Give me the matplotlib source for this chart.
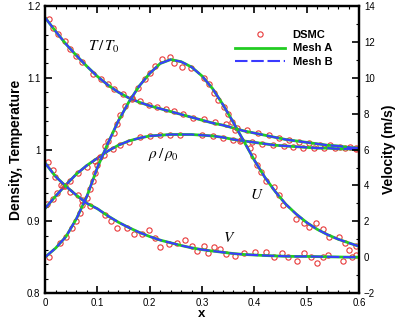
import matplotlib
matplotlib.use("Agg")
import matplotlib.pyplot as plt
from matplotlib.ticker import MultipleLocator, FuncFormatter

plt.rcParams["font.family"] = ["Liberation Sans", "DejaVu Sans"]
plt.rcParams["mathtext.fontset"] = "stix"

# ---- solution curves (Mesh A / Mesh B overlap) ----
x_line = [0.0, 0.02, 0.04, 0.06, 0.08, 0.1, 0.12, 0.14, 0.16, 0.18, 0.2, 0.22, 0.24, 0.26, 0.28, 0.3,
          0.32, 0.34, 0.36, 0.38, 0.4, 0.42, 0.44, 0.46, 0.48, 0.5, 0.52, 0.54, 0.56, 0.58, 0.6]
T_line = [1.184, 1.165, 1.147, 1.131, 1.116, 1.102, 1.090, 1.080, 1.072, 1.066, 1.061, 1.057, 1.053, 1.049,
          1.045, 1.041, 1.037, 1.034, 1.030, 1.026, 1.023, 1.020, 1.017, 1.014, 1.012, 1.010, 1.008, 1.006,
          1.005, 1.003, 1.002]
rho_line = [0.918, 0.935, 0.951, 0.966, 0.978, 0.988, 0.998, 1.006, 1.012, 1.016, 1.019, 1.020, 1.021, 1.021,
            1.021, 1.020, 1.019, 1.017, 1.014, 1.012, 1.010, 1.008, 1.006, 1.005, 1.004, 1.003, 1.002, 1.002,
            1.001, 1.001, 1.000]
U_line = [0.0, 0.5, 1.15, 2.15, 3.4, 5.0, 6.35, 7.6, 8.65, 9.55, 10.25, 10.8, 11.02, 10.9, 10.6, 10.1,
          9.4, 8.5, 7.5, 6.45, 5.4, 4.45, 3.65, 2.95, 2.4, 1.93, 1.55, 1.25, 1.0, 0.8, 0.6]
V_line = [5.25, 4.5, 3.95, 3.45, 3.0, 2.7, 2.3, 1.95, 1.65, 1.38, 1.15, 0.95, 0.8, 0.65, 0.52, 0.42,
          0.34, 0.27, 0.2, 0.15, 0.12, 0.09, 0.07, 0.05, 0.04, 0.04, 0.03, 0.02, 0.01, 0.0, 0.0]

# ---- DSMC samples ----
T_x = [0.008, 0.016, 0.025, 0.038, 0.048, 0.059, 0.070, 0.092, 0.106, 0.121, 0.132, 0.149, 0.166, 0.182,
       0.198, 0.214, 0.231, 0.247, 0.264, 0.282, 0.303, 0.325, 0.346, 0.367, 0.386, 0.406, 0.427, 0.446,
       0.467, 0.486, 0.505, 0.526, 0.545, 0.564, 0.583, 0.595]
T_dsmc = [1.182, 1.170, 1.161, 1.151, 1.140, 1.131, 1.122, 1.106, 1.098, 1.091, 1.084, 1.077, 1.071, 1.068,
          1.062, 1.059, 1.056, 1.054, 1.049, 1.044, 1.042, 1.038, 1.035, 1.030, 1.027, 1.023, 1.020, 1.016,
          1.014, 1.011, 1.009, 1.007, 1.006, 1.004, 1.004, 1.002]
rho_x = [0.004, 0.015, 0.022, 0.034, 0.048, 0.062, 0.080, 0.096, 0.112, 0.129, 0.143, 0.161, 0.182, 0.201,
         0.220, 0.239, 0.258, 0.300, 0.321, 0.340, 0.360, 0.373, 0.395, 0.414, 0.435, 0.456, 0.473, 0.493,
         0.513, 0.532, 0.553, 0.574, 0.595]
rho_dsmc = [0.924, 0.931, 0.940, 0.949, 0.956, 0.967, 0.976, 0.984, 0.993, 1.001, 1.006, 1.010, 1.018, 1.019,
            1.021, 1.021, 1.021, 1.021, 1.019, 1.016, 1.013, 1.012, 1.010, 1.008, 1.007, 1.005, 1.003, 1.002,
            1.002, 1.002, 1.002, 1.002, 1.001]
U_x = [0.008, 0.029, 0.040, 0.051, 0.059, 0.066, 0.070, 0.080, 0.086, 0.091, 0.096, 0.100, 0.105, 0.115,
       0.121, 0.131, 0.137, 0.143, 0.153, 0.166, 0.178, 0.191, 0.201, 0.210, 0.223, 0.239, 0.247, 0.261,
       0.279, 0.304, 0.314, 0.323, 0.331, 0.341, 0.349, 0.357, 0.363, 0.375, 0.391, 0.397, 0.405, 0.412,
       0.423, 0.438, 0.446, 0.455, 0.480, 0.494, 0.505, 0.518, 0.531, 0.543, 0.562, 0.573, 0.581, 0.594]
U_dsmc = [0.03, 0.78, 1.15, 1.62, 2.03, 2.49, 2.92, 3.30, 3.80, 4.23, 4.70, 5.16, 5.59, 6.18,
          6.46, 6.93, 7.40, 7.90, 8.42, 8.89, 9.45, 9.92, 10.27, 10.66, 11.07, 11.19, 10.81, 10.60,
          10.53, 10.01, 9.64, 9.13, 8.76, 8.39, 7.96, 7.53, 7.08, 6.56, 6.09, 5.66, 5.16, 4.73,
          4.23, 3.91, 3.48, 2.92, 2.12, 1.90, 1.68, 1.90, 1.56, 1.15, 1.15, 0.78, 0.41, 0.63]
V_x = [0.006, 0.015, 0.019, 0.030, 0.038, 0.048, 0.062, 0.070, 0.085, 0.115, 0.126, 0.138, 0.156, 0.169,
       0.185, 0.199, 0.210, 0.219, 0.236, 0.253, 0.268, 0.280, 0.291, 0.303, 0.312, 0.322, 0.335, 0.346,
       0.363, 0.381, 0.402, 0.423, 0.437, 0.453, 0.465, 0.481, 0.495, 0.508, 0.520, 0.531, 0.540, 0.569,
       0.586, 0.595]
V_dsmc = [5.29, 4.84, 4.47, 4.04, 3.95, 3.61, 3.48, 3.16, 2.87, 2.36, 1.99, 1.62, 1.62, 1.30,
          1.30, 1.49, 1.06, 0.59, 0.74, 0.81, 0.93, 0.63, 0.37, 0.63, 0.25, 0.56, 0.44, 0.18,
          0.07, 0.25, 0.31, 0.31, 0.03, 0.22, 0.0, -0.19, 0.22, 0.0, -0.34, 0.0, 0.13, -0.19,
          0.0, 0.13]

RED = "#e8393a"
GREEN = "#22cc22"
BLUE = "#3a3aff"
circ = dict(ls="none", marker="o", ms=3.8, mfc="none", mec=RED, mew=0.8)
meshA = dict(color=GREEN, lw=2.0, ls="-")
meshB = dict(color=BLUE, lw=1.5, ls=(0, (6, 1.8)))

fig = plt.figure(figsize=(3.99, 3.22), dpi=100)
ax = fig.add_axes([0.113, 0.090, 0.787, 0.891])
ax2 = ax.twinx()

ax.plot(T_x, T_dsmc, **circ)
ax.plot(rho_x, rho_dsmc, **circ)
ax.plot(x_line, T_line, **meshA)
ax.plot(x_line, rho_line, **meshA)
ax.plot(x_line, T_line, **meshB)
ax.plot(x_line, rho_line, **meshB)

h1, = ax2.plot(U_x, U_dsmc, label="DSMC", **circ)
ax2.plot(V_x, V_dsmc, **circ)
h2, = ax2.plot(x_line, U_line, label="Mesh A", **meshA)
ax2.plot(x_line, V_line, **meshA)
h3, = ax2.plot(x_line, U_line, label="Mesh B", **meshB)
ax2.plot(x_line, V_line, **meshB)

ax.set_xlim(0, 0.6)
ax.set_ylim(0.8, 1.2)
ax2.set_ylim(-2, 14)

fmt = FuncFormatter(lambda v, p: f"{v:g}")
ax.xaxis.set_major_locator(MultipleLocator(0.1))
ax.xaxis.set_minor_locator(MultipleLocator(0.02))
ax.xaxis.set_major_formatter(fmt)
ax.yaxis.set_major_locator(MultipleLocator(0.1))
ax.yaxis.set_minor_locator(MultipleLocator(0.02))
ax.yaxis.set_major_formatter(fmt)
ax2.yaxis.set_major_locator(MultipleLocator(2))
ax2.yaxis.set_minor_locator(MultipleLocator(1))

ax.tick_params(which="both", direction="in", top=True, right=False, labelsize=7, width=1.2)
ax.tick_params(which="major", length=5)
ax.tick_params(which="minor", length=2.5, width=0.8)
ax2.tick_params(which="both", direction="in", labelsize=7, width=1.2)
ax2.tick_params(which="major", length=5)
ax2.tick_params(which="minor", length=2.5, width=0.8)
for a in (ax, ax2):
    for s in a.spines.values():
        s.set_linewidth(1.6)

ax.set_xlabel("x", fontsize=9.5, fontweight="bold", labelpad=0)
ax.set_ylabel("Density, Temperature", fontsize=10, fontweight="bold", labelpad=3)
ax2.set_ylabel("Velocity (m/s)", fontsize=10, fontweight="bold", labelpad=5)

ax.text(0.112, 1.143, r"$T\,/\,T_0$", fontsize=11, ha="center", va="center")
ax.text(0.226, 0.993, r"$\rho\,/\,\rho_0$", fontsize=11, ha="center", va="center")
ax.text(0.405, 0.937, r"$U$", fontsize=11, ha="center", va="center")
ax.text(0.352, 0.877, r"$V$", fontsize=11, ha="center", va="center")

ax2.legend([h1, h2, h3], ["DSMC", "Mesh A", "Mesh B"], loc="upper left",
           bbox_to_anchor=(0.59, 0.932), frameon=False, handlelength=4.5,
           handletextpad=0.7, labelspacing=0.3, borderaxespad=0,
           prop={"weight": "bold", "size": 8})

fig.savefig("out.png", dpi=100)
